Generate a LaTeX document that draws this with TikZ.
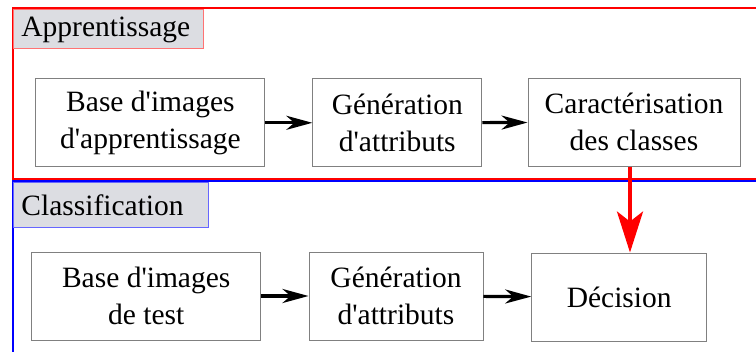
\documentclass[tikz,border=0pt]{standalone}
\usepackage{fontspec}
\setmainfont{Liberation Serif}
\usetikzlibrary{arrows.meta}

\definecolor{titregris}{RGB}{220,221,226}
\newcommand{\apos}{\textquotesingle}

\begin{document}
\begin{tikzpicture}[x=1pt,y=-1pt,
  boite/.style={draw=gray,line width=0.9pt,fill=white,align=center,inner sep=0pt,
    font=\fontsize{29.5}{37}\selectfont},
  titre/.style={fill=titregris,line width=0.9pt,anchor=north west,inner sep=0pt,
    font=\fontsize{29.5}{37}\selectfont},
  fleche/.style={line width=3.2pt,-{Stealth[length=26pt,width=14pt,inset=8pt]}}]
\clip (0,0) rectangle (756,352);
\useasboundingbox (0,0) rectangle (756,352);
% cadres
\draw[red,line width=2pt] (13,8.5) rectangle (780,179);
\draw[blue,line width=2pt] (13,181) rectangle (780,380);
\node[titre,draw=red!55,minimum width=190pt,minimum height=39pt,text width=186pt] (tapp) at (13,9.5) {\hspace*{6pt}Apprentissage};
\node[titre,draw=blue!60,minimum width=195pt,minimum height=45pt,text width=191pt] (tcla) at (13,182) {\hspace*{6pt}Classification};
% apprentissage
\node[boite,minimum width=229pt,minimum height=88pt] (b1) at (150.4,122.8) {Base d\apos images\\d\apos apprentissage};
\node[boite,minimum width=169pt,minimum height=88pt] (b2) at (397.3,122.8) {Génération\\d\apos attributs};
\node[boite,minimum width=212pt,minimum height=88pt] (b3) at (634,122.3) {Caractérisation\\des classes};
% classification
\node[boite,minimum width=229pt,minimum height=88pt] (c1) at (146.2,296) {Base d\apos images\\de test};
\node[boite,minimum width=174pt,minimum height=88pt] (c2) at (396,296) {Génération\\d\apos attributs};
\node[boite,minimum width=175pt,minimum height=88pt] (c3) at (619.2,297) {Décision};
\draw[fleche] (b1) -- (b2);
\draw[fleche] (b2) -- (b3);
\draw[fleche] (c1) -- (c2);
\draw[fleche] (c2) -- (c3);
\draw[red,line width=4pt,-{Stealth[length=41pt,width=26pt,inset=10pt]}] ([xshift=-4pt]b3.south) -- ([xshift=-4pt]b3.south |- c3.north);
\end{tikzpicture}
\end{document}
